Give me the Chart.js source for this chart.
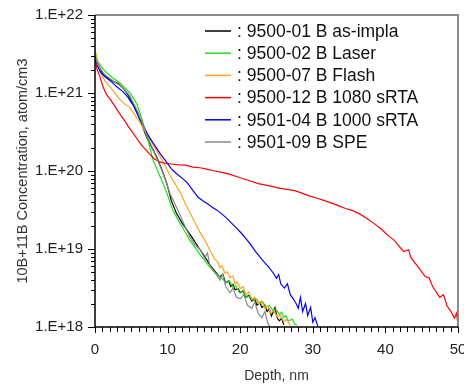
<!DOCTYPE html>
<html>
<head>
<meta charset="utf-8">
<script src="https://cdn.jsdelivr.net/npm/chart.js@4.4.1/dist/chart.umd.min.js"></script>
<style>
  html, body { margin: 0; padding: 0; background: #ffffff; }
  #wrap { width: 464px; height: 387px; position: relative; }
</style>
</head>
<body>
<div id="wrap"><canvas id="c"></canvas></div>
<script>
// ---------------- DATA ----------------
const seriesLabels = [
  ': 9500-01 B as-impla',
  ': 9500-02 B Laser',
  ': 9500-07 B Flash',
  ': 9500-12 B 1080 sRTA',
  ': 9501-04 B 1000 sRTA',
  ': 9501-09 B SPE'
];
const seriesColors = ['#000000', '#22dd22', '#ffa020', '#ff0000', '#0000ff', '#888888'];

const yTickValues = [1e18, 1e19, 1e20, 1e21, 1e22];
const xTickValues = [0, 10, 20, 30, 40, 50];

// 9500-01 B as-impla
const depthAsImpla = [0, 0.3, 0.7, 1.2, 1.8, 2.5, 3.2, 4.0, 4.6, 5.3, 5.9, 6.5, 7.2, 7.9, 8.5, 9.2, 9.9, 10.5, 11.2, 12.0, 12.7, 13.5, 14.2, 15.0, 15.8, 16.5, 17.2, 17.6, 18.0, 18.4, 18.7, 19.0, 19.3, 19.7, 20.0, 20.4, 20.8, 21.2, 21.6, 22.0, 22.3, 22.7, 23.0, 23.4, 23.7, 24.0, 24.3, 24.8, 25.1, 25.4, 25.7, 26.0];
const concAsImpla  = [2.95e21, 2.6e21, 2.0e21, 1.7e21, 1.55e21, 1.41e21, 1.32e21, 1.12e21, 9.3e20, 7.1e20, 5.4e20, 3.8e20, 2.6e20, 1.95e20, 1.51e20, 1.05e20, 6.9e19, 4.2e19, 2.9e19, 2.15e19, 1.74e19, 1.35e19, 1.07e19, 8.3e18, 6.3e18, 5.2e18, 4.4e18, 4.7e18, 3.7e18, 3.9e18, 3.3e18, 3.5e18, 3.0e18, 3.1e18, 2.75e18, 2.9e18, 2.4e18, 2.55e18, 2.15e18, 2.3e18, 1.9e18, 2.05e18, 1.78e18, 1.9e18, 1.58e18, 1.7e18, 1.38e18, 1.78e18, 1.3e18, 1.2e18, 1.3e18, 1.07e18];

// 9500-02 B Laser
const depthLaser = [0, 0.3, 1.0, 1.6, 2.5, 3.4, 4.1, 4.8, 5.4, 5.8, 6.2, 6.6, 7.0, 7.4, 8.0, 8.5, 9.0, 9.5, 9.9, 10.3, 10.7, 11.4, 12.1, 13.0, 14.0, 14.7, 15.4, 16.3, 17.2, 17.6, 18.1, 18.5, 19.0, 19.4, 19.9, 20.4, 20.9, 21.3, 21.8, 22.2, 22.7, 23.1, 23.6, 24.0, 24.5, 24.9, 25.4, 25.7, 26.0, 26.3, 26.6, 27.2, 27.5, 27.8];
const concLaser  = [3.1e21, 2.6e21, 2.1e21, 1.82e21, 1.55e21, 1.35e21, 1.17e21, 1.0e21, 8.3e20, 7.1e20, 5.5e20, 4.2e20, 3.1e20, 2.3e20, 1.38e20, 1.07e20, 8.3e19, 6.5e19, 5.2e19, 4.1e19, 3.15e19, 2.4e19, 1.86e19, 1.32e19, 9.8e18, 7.9e18, 6.6e18, 5.2e18, 4.4e18, 4.1e18, 3.7e18, 3.9e18, 3.25e18, 3.4e18, 2.75e18, 2.95e18, 2.4e18, 2.5e18, 2.2e18, 2.3e18, 2.0e18, 2.1e18, 1.78e18, 1.9e18, 1.62e18, 1.7e18, 1.45e18, 1.55e18, 1.32e18, 1.4e18, 1.2e18, 1.26e18, 1.1e18, 1.05e18];

// 9500-07 B Flash
const depthFlash = [0, 0.3, 0.7, 1.4, 2.1, 2.8, 3.4, 4.1, 4.8, 5.5, 6.2, 6.9, 7.6, 8.3, 9.0, 9.7, 10.3, 11.0, 11.7, 12.4, 13.1, 13.8, 14.5, 15.2, 15.8, 16.5, 16.9, 17.2, 17.5, 17.9, 18.2, 18.6, 19.0, 19.3, 19.6, 20.0, 20.4, 20.8, 21.2, 21.6, 22.0, 22.5, 22.9, 23.4, 23.8, 24.2, 24.6, 25.1, 25.5, 26.0, 26.4, 26.9];
const concFlash  = [3.55e21, 2.8e21, 1.9e21, 1.41e21, 1.2e21, 9.8e20, 8.3e20, 7.2e20, 6.5e20, 5.2e20, 4.2e20, 3.2e20, 2.5e20, 1.95e20, 1.51e20, 1.15e20, 8.9e19, 6.9e19, 5.4e19, 3.9e19, 2.9e19, 2.15e19, 1.62e19, 1.26e19, 9.8e18, 7.4e18, 6.9e18, 5.8e18, 6.1e18, 4.9e18, 5.1e18, 4.3e18, 4.5e18, 3.55e18, 3.8e18, 3.1e18, 3.3e18, 2.6e18, 2.8e18, 2.25e18, 2.4e18, 2.0e18, 2.15e18, 1.74e18, 1.85e18, 1.51e18, 1.62e18, 1.35e18, 1.42e18, 1.17e18, 1.25e18, 1.05e18];

// 9500-12 B 1080 sRTA
const depthRta1080 = [0, 0.3, 0.7, 1.1, 1.6, 2.1, 2.6, 3.1, 3.6, 4.1, 4.6, 5.1, 5.6, 6.1, 6.6, 7.1, 7.6, 8.1, 8.6, 9.1, 9.6, 10.5, 11.5, 12.5, 13.5, 14.5, 15.5, 16.5, 17.5, 18.5, 19.5, 20.5, 21.5, 22.5, 23.5, 24.5, 25.5, 26.5, 27.5, 28.5, 29.5, 30.5, 31.5, 32.5, 33.5, 34.5, 35.5, 36.5, 37.5, 38.5, 39.5, 40.5, 41.2, 41.5, 42.5, 43.2, 43.5, 44.5, 45.5, 46.0, 46.5, 47.5, 48.0, 48.5, 49.0, 49.5, 49.8, 50.0];
const concRta1080  = [2.6e21, 2.0e21, 1.6e21, 1.2e21, 9.5e20, 8.3e20, 7.1e20, 6.0e20, 5.1e20, 4.4e20, 3.7e20, 3.2e20, 2.75e20, 2.35e20, 2.05e20, 1.82e20, 1.62e20, 1.45e20, 1.35e20, 1.29e20, 1.26e20, 1.23e20, 1.2e20, 1.19e20, 1.12e20, 1.1e20, 1.05e20, 1.0e20, 9.6e19, 9.1e19, 8.5e19, 7.9e19, 7.4e19, 6.9e19, 6.6e19, 6.3e19, 6.0e19, 5.8e19, 5.6e19, 5.2e19, 4.8e19, 4.5e19, 4.2e19, 3.9e19, 3.6e19, 3.3e19, 3.1e19, 2.8e19, 2.45e19, 2.1e19, 1.78e19, 1.45e19, 1.3e19, 1.2e19, 9.3e18, 9.8e18, 7.8e18, 5.9e18, 4.4e18, 4.3e18, 3.3e18, 2.4e18, 2.6e18, 1.86e18, 1.6e18, 1.3e18, 1.5e18, 1.05e18];

// 9501-04 B 1000 sRTA
const depthRta1000 = [0, 0.4, 0.8, 1.5, 2.2, 3.0, 3.8, 4.5, 5.2, 6.0, 6.8, 7.5, 8.2, 9.0, 9.8, 10.5, 11.2, 12.0, 12.7, 13.5, 14.2, 14.8, 15.5, 16.2, 16.8, 17.5, 18.2, 18.8, 19.5, 20.2, 20.9, 21.5, 22.1, 22.7, 23.3, 23.9, 24.5, 25.0, 25.3, 25.6, 26.1, 26.5, 26.9, 27.3, 27.7, 28.0, 28.3, 28.6, 29.0, 29.3, 29.7, 30.0, 30.3, 30.7];
const concRta1000  = [2.8e21, 2.15e21, 1.82e21, 1.58e21, 1.41e21, 1.2e21, 1.05e21, 8.9e20, 7.1e20, 5.0e20, 3.55e20, 2.7e20, 2.15e20, 1.66e20, 1.32e20, 1.07e20, 9.3e19, 8.1e19, 7.1e19, 5.6e19, 4.6e19, 4.2e19, 3.8e19, 3.4e19, 3.15e19, 2.8e19, 2.45e19, 2.15e19, 1.85e19, 1.58e19, 1.32e19, 1.12e19, 9.3e18, 7.9e18, 6.8e18, 5.9e18, 5.0e18, 4.2e18, 4.7e18, 3.55e18, 3.15e18, 3.6e18, 2.6e18, 2.3e18, 2.0e18, 1.74e18, 2.4e18, 1.58e18, 2.0e18, 1.41e18, 1.78e18, 1.15e18, 1.32e18, 1.02e18];

// 9501-09 B SPE
const depthSpe = [0, 0.7, 1.3, 2.0, 2.7, 3.4, 4.1, 4.8, 5.3, 5.8, 6.4, 7.0, 7.5, 8.0, 8.6, 9.2, 9.8, 10.3, 11.0, 11.7, 12.4, 13.1, 13.8, 14.5, 15.1, 15.5, 15.8, 16.5, 17.2, 17.6, 18.0, 18.6, 19.0, 19.5, 20.0, 20.5, 21.0, 21.6, 22.0, 22.5, 23.0, 23.4, 23.8, 24.1];
const concSpe  = [2.8e21, 2.1e21, 1.74e21, 1.55e21, 1.38e21, 1.26e21, 1.1e21, 9.1e20, 7.4e20, 6.0e20, 4.4e20, 3.1e20, 2.4e20, 1.86e20, 1.38e20, 1.02e20, 7.2e19, 5.2e19, 3.8e19, 2.75e19, 1.95e19, 1.41e19, 1.12e19, 9.8e18, 7.6e18, 8.9e18, 6.2e18, 5.0e18, 4.0e18, 4.8e18, 3.3e18, 2.75e18, 3.15e18, 2.4e18, 2.3e18, 2.6e18, 1.9e18, 1.74e18, 2.1e18, 1.48e18, 1.32e18, 1.58e18, 1.12e18, 1.0e18];

const seriesDepths = [depthAsImpla, depthLaser, depthFlash, depthRta1080, depthRta1000, depthSpe];
const seriesConcs  = [concAsImpla, concLaser, concFlash, concRta1080, concRta1000, concSpe];

// ---------------- CHART ----------------
const FONT = "'Liberation Sans', Arial, sans-serif";

const datasets = seriesLabels.map((label, i) => ({
  label,
  data: seriesDepths[i].map((d, k) => ({ x: d, y: seriesConcs[i][k] })),
  borderColor: seriesColors[i],
  backgroundColor: seriesColors[i],
  borderWidth: 1.2,
  pointRadius: 0,
  tension: 0,
  fill: false,
  order: seriesLabels.length - i
}));

const decor = {
  id: 'decor',
  afterDraw(chart) {
    const ctx = chart.ctx, a = chart.chartArea;
    const xs = chart.scales.x, ys = chart.scales.y;
    ctx.save();
    // top & right frame (gray)
    ctx.strokeStyle = '#8a8a8a';
    ctx.lineWidth = 2;
    ctx.beginPath();
    ctx.moveTo(a.left, a.top);
    ctx.lineTo(a.right, a.top);
    ctx.lineTo(a.right, a.bottom);
    ctx.stroke();
    // axes (black)
    ctx.strokeStyle = '#000';
    ctx.lineWidth = 1.5;
    ctx.beginPath();
    ctx.moveTo(a.left, a.top);
    ctx.lineTo(a.left, a.bottom);
    ctx.lineTo(a.right, a.bottom);
    ctx.stroke();
    // y ticks (major + minor)
    ctx.lineWidth = 1;
    ctx.beginPath();
    for (let e = 18; e <= 22; e++) {
      for (let m = 1; m <= 9; m++) {
        const v = m * Math.pow(10, e);
        if (v > 1e22 * 1.0001) break;
        const y = Math.round(ys.getPixelForValue(v)) + 0.5;
        const len = (m === 1) ? 7 : 4;
        ctx.moveTo(a.left - len, y);
        ctx.lineTo(a.left, y);
      }
    }
    // x ticks (every 1 nm)
    for (let d = 0; d <= 50; d++) {
      const x = Math.round(xs.getPixelForValue(d)) + 0.5;
      const len = (d % 10 === 0) ? 6 : 5;
      ctx.moveTo(x, a.bottom);
      ctx.lineTo(x, a.bottom + len);
    }
    ctx.stroke();

    // legend inside plot
    ctx.font = '17.5px ' + FONT;
    ctx.textBaseline = 'middle';
    ctx.textAlign = 'left';
    chart.data.datasets.forEach((ds, i) => {
      const y = a.top + 16 + i * 22.2;
      ctx.strokeStyle = ds.borderColor;
      ctx.lineWidth = 1.5;
      ctx.beginPath();
      ctx.moveTo(a.left + 110, y);
      ctx.lineTo(a.left + 136, y);
      ctx.stroke();
      ctx.fillStyle = '#111';
      ctx.fillText(ds.label, a.left + 142, y + 1);
    });
    ctx.restore();
  }
};

new Chart(document.getElementById('c'), {
  type: 'line',
  data: { datasets },
  options: {
    responsive: true,
    maintainAspectRatio: false,
    animation: false,
    layout: { padding: { top: 15, right: 6, left: 0, bottom: 0 } },
    plugins: { legend: { display: false }, tooltip: { enabled: false } },
    scales: {
      x: {
        type: 'linear',
        min: 0, max: 50,
        afterBuildTicks(scale) { scale.ticks = xTickValues.map(v => ({ value: v })); },
        afterFit(scale) { scale.height = 60; scale.paddingLeft = 0; scale.paddingRight = 0; },
        grid: { display: true, drawOnChartArea: false, drawTicks: true, tickLength: 6, tickColor: 'rgba(0,0,0,0)', color: 'rgba(0,0,0,0)' },
        border: { display: false },
        ticks: { autoSkip: false, maxRotation: 0, padding: 8, color: '#222', font: { family: FONT, size: 15 } },
        title: { display: true, text: 'Depth, nm', color: '#333', font: { family: FONT, size: 14 }, padding: { top: 0, bottom: 2 } }
      },
      y: {
        type: 'logarithmic',
        min: 1e18, max: 1e22,
        afterBuildTicks(scale) { scale.ticks = yTickValues.map(v => ({ value: v })); },
        afterFit(scale) { scale.width = 95; scale.paddingTop = 0; scale.paddingBottom = 0; },
        grid: { display: true, drawOnChartArea: false, drawTicks: true, tickLength: 7, tickColor: 'rgba(0,0,0,0)', color: 'rgba(0,0,0,0)' },
        border: { display: false },
        ticks: {
          autoSkip: false, padding: 5, color: '#222', font: { family: FONT, size: 15 },
          callback: (v) => '1.E+' + Math.round(Math.log10(v))
        },
        title: { display: true, text: '10B+11B Concentration, atom/cm3', color: '#333', font: { family: FONT, size: 14.5 }, padding: { top: 14, bottom: 0 } }
      }
    }
  },
  plugins: [decor]
});
</script>
</body>
</html>
